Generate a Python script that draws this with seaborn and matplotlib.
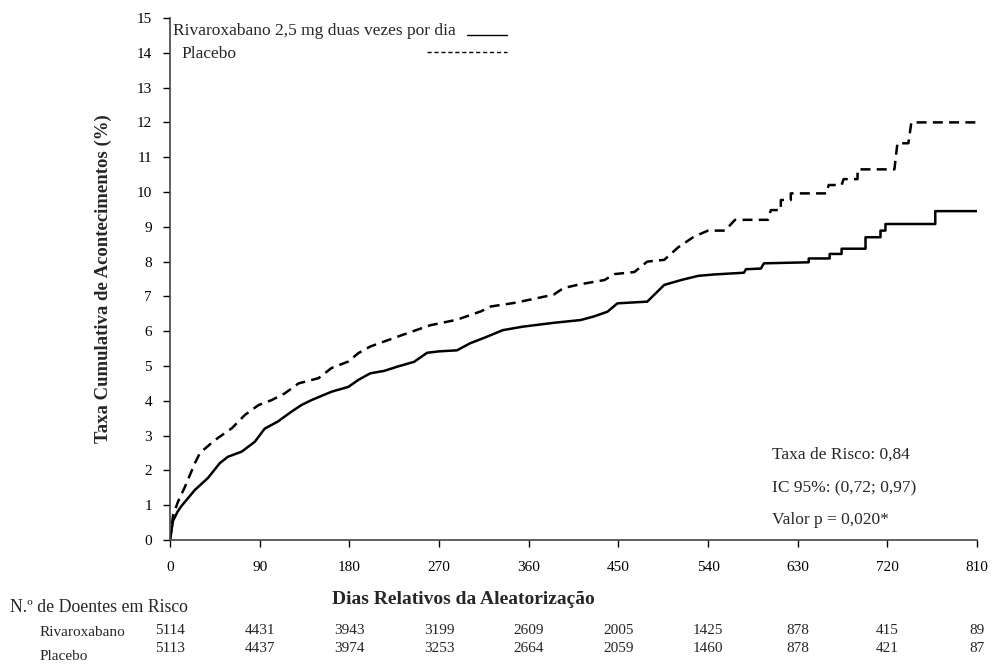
import matplotlib
matplotlib.use("Agg")
import matplotlib.pyplot as plt
from matplotlib.lines import Line2D
import pandas as pd
import seaborn as sns

# ── Dados (dias, taxa cumulativa %) ──
# pares com o mesmo dia = degrau vertical da curva de Kaplan-Meier
riva_dias = [0, 3, 7.5, 11, 18, 25, 38, 50, 58, 72, 85, 95, 108, 122, 132, 142,
             162, 179, 189, 201, 215, 228, 245, 258, 270, 288, 301, 318, 334,
             354, 385, 412, 425, 439, 449, 479, 496, 513, 530, 546, 576, 578,
             593, 596, 641, 641, 662, 662, 674, 674, 698, 698, 713, 713, 718,
             718, 768, 768, 810]
riva_taxa = [0, 0.55, 0.81, 0.96, 1.2, 1.44, 1.78, 2.21, 2.39, 2.54, 2.82, 3.2,
             3.4, 3.69, 3.88, 4.02, 4.26, 4.4, 4.6, 4.79, 4.86, 4.98, 5.12,
             5.38, 5.42, 5.45, 5.65, 5.84, 6.03, 6.13, 6.24, 6.32, 6.42, 6.56,
             6.8, 6.85, 7.33, 7.47, 7.59, 7.63, 7.68, 7.78, 7.8, 7.95, 7.98,
             8.09, 8.09, 8.22, 8.22, 8.37, 8.37, 8.7, 8.7, 8.89, 8.89, 9.08,
             9.08, 9.45, 9.45]

plac_dias = [0, 3, 8, 15, 25, 30, 45, 62, 75, 89, 102, 115, 129, 149, 162, 179,
             189, 201, 234, 261, 288, 312, 322, 345, 362, 385, 395, 412, 436,
             446, 466, 479, 496, 510, 526, 540, 557, 567, 593, 600, 603, 613,
             613, 623, 623, 659, 661, 674, 676, 690, 690, 727, 730, 741, 744,
             810]
plac_taxa = [0, 0.7, 1.1, 1.53, 2.21, 2.5, 2.87, 3.21, 3.59, 3.88, 4.02, 4.21,
             4.5, 4.65, 4.94, 5.13, 5.37, 5.56, 5.9, 6.17, 6.33, 6.57, 6.71,
             6.81, 6.91, 7.05, 7.24, 7.35, 7.47, 7.64, 7.7, 8.0, 8.05, 8.41,
             8.72, 8.89, 8.89, 9.2, 9.2, 9.2, 9.48, 9.48, 9.77, 9.77, 9.96,
             9.96, 10.2, 10.2, 10.37, 10.37, 10.65, 10.65, 11.4, 11.4, 12.0,
             12.0]

# ── Doentes em risco ──
risco_dias = [0, 90, 180, 270, 360, 450, 540, 630, 720, 810]
risco_riva = [5114, 4431, 3943, 3199, 2609, 2005, 1425, 878, 415, 89]
risco_plac = [5113, 4437, 3974, 3253, 2664, 2059, 1460, 878, 421, 87]

sns.set_theme(style="ticks")
plt.rcParams["font.family"] = ["Liberation Serif", "DejaVu Serif"]

df = pd.concat([
    pd.DataFrame({"dia": riva_dias, "taxa": riva_taxa, "grupo": "Rivaroxabano"}),
    pd.DataFrame({"dia": plac_dias, "taxa": plac_taxa, "grupo": "Placebo"}),
])

fig = plt.figure(figsize=(9.92, 6.66), dpi=100)
ax = fig.add_axes([0.1714, 0.1892, 0.8136, 0.7838])

sns.lineplot(data=df[df.grupo == "Rivaroxabano"], x="dia", y="taxa",
             color="black", lw=1.8, estimator=None, sort=False, ax=ax)
sns.lineplot(data=df[df.grupo == "Placebo"], x="dia", y="taxa",
             color="black", lw=1.8, linestyle=(0, (4, 2.5)),
             estimator=None, sort=False, ax=ax)

ax.set_xlim(0, 810)
ax.set_ylim(0, 15)
ax.set_xticks(risco_dias)
ax.set_yticks(range(0, 16))
ax.tick_params(labelsize=11, length=5, width=1, direction="out", colors="black")
ax.tick_params(axis="x", pad=10)
ax.tick_params(axis="y", pad=8)
for s in ["top", "right"]:
    ax.spines[s].set_visible(False)
for s in ["left", "bottom"]:
    ax.spines[s].set_color("#444444")
    ax.spines[s].set_linewidth(1.2)

ax.set_ylabel("Taxa Cumulativa de Acontecimentos (%)", fontsize=13.5,
              fontweight="bold", labelpad=18)
ax.set_xlabel("")
fig.text(463 / 992, 1 - 599 / 666, "Dias Relativos da Aleatorização",
         fontsize=14, fontweight="bold", ha="center", va="center")

# ── legenda manual ──
fig.text(173 / 992, 1 - 31 / 666, "Rivaroxabano 2,5 mg duas vezes por dia",
         fontsize=12.5, va="center")
fig.text(181 / 992, 1 - 54 / 666, "Placebo", fontsize=12.5, va="center")
fig.add_artist(Line2D([467 / 992, 507 / 992], [1 - 35 / 666] * 2,
                      color="black", lw=1.0))
fig.add_artist(Line2D([427 / 992, 507 / 992], [1 - 52 / 666] * 2,
                      color="black", lw=1.0, linestyle=(0, (3, 2))))

# ── estatísticas ──
for txt, yy in [("Taxa de Risco: 0,84", 455), ("IC 95%: (0,72; 0,97)", 488),
                ("Valor p = 0,020*", 520)]:
    fig.text(772 / 992, 1 - yy / 666, txt, fontsize=12.5, va="center")

# ── tabela de doentes em risco ──
fig.text(10 / 992, 1 - 607 / 666, "N.º de Doentes em Risco", fontsize=12.8,
         va="center")
fig.text(40 / 992, 1 - 632 / 666, "Rivaroxabano", fontsize=11, va="center")
fig.text(40 / 992, 1 - 656 / 666, "Placebo", fontsize=11, va="center")
for d, r, p in zip(risco_dias, risco_riva, risco_plac):
    xx = ax.transData.transform((d, 0))[0] / (fig.dpi * fig.get_figwidth())
    fig.text(xx, 1 - 631 / 666, str(r), fontsize=11, ha="center", va="center")
    fig.text(xx, 1 - 648 / 666, str(p), fontsize=11, ha="center", va="center")

fig.savefig("out.png", dpi=100)
